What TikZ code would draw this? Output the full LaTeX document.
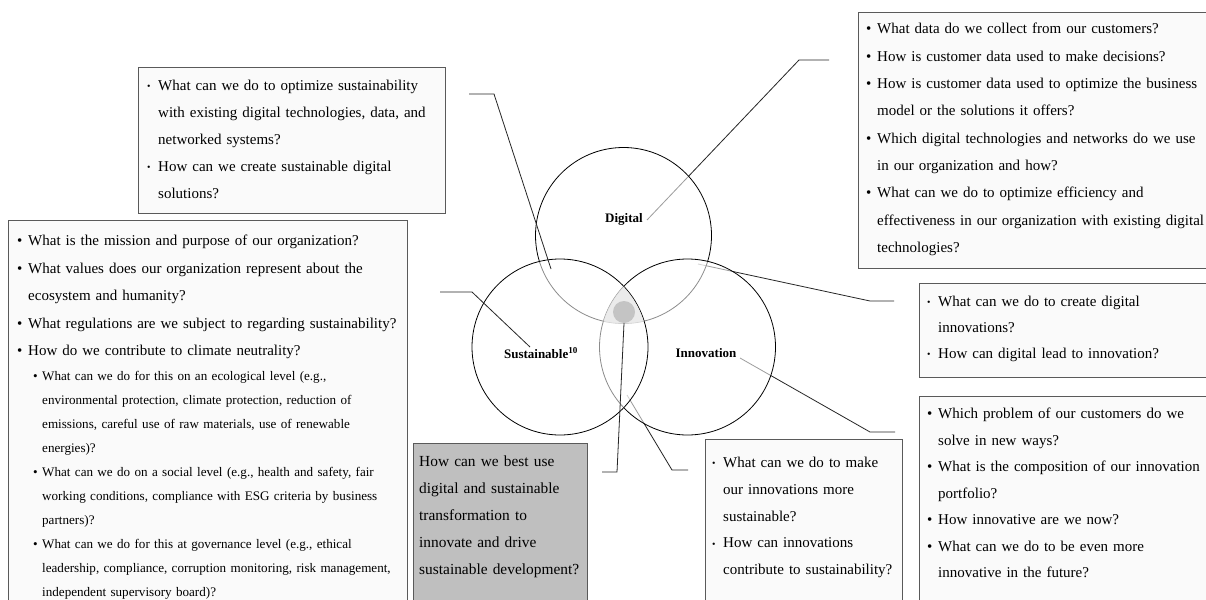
\documentclass[tikz,border=0pt]{standalone}
\usepackage{fontspec}
\usepackage{graphicx}
\setmainfont{Liberation Serif}
\definecolor{boxfill}{HTML}{FAFAFA}
\definecolor{boxline}{HTML}{5A5A5A}
\definecolor{grayfill}{HTML}{BFBFBF}
\definecolor{centerfill}{HTML}{E6E6E6}
\definecolor{dotfill}{HTML}{C4C4C4}
\newcommand\bigbul{\makebox[11pt][l]{\textbullet}}
\newcommand\smallbul{\makebox[11pt][l]{\raisebox{0.8pt}{\scalebox{0.65}{\textbullet}}}}
\newcommand\subbul{\makebox[9pt][l]{\textbullet}}
\newcommand\ind{\hspace*{11pt}}
\newcommand\subind{\hspace*{9pt}}
\tikzset{
  qbox/.style={draw=boxline, fill=boxfill, line width=0.9pt, anchor=north west, inner sep=0pt},
  gbox/.style={draw=boxline, fill=grayfill, line width=0.9pt, anchor=north west, inner sep=0pt},
  qtext/.style={anchor=base west, inner sep=0pt, text width=420pt, align=left},
  circ/.style={circle, minimum size=176pt, inner sep=0pt, draw=black, line width=0.8pt, fill=white, fill opacity=0.55},
  conn/.style={draw=black!85, line width=0.8pt},
  lab/.style={font={\fontsize{13}{15}\selectfont\bfseries}, inner sep=0pt},
}
\begin{document}
\begin{tikzpicture}[x=1pt,y=-1pt]
\useasboundingbox (0,0) rectangle (1206,599);
\clip (0,0) rectangle (1206,599);
\fill[white] (0,0) rectangle (1206,599);

% boxes
\node[qbox, minimum width=307pt, minimum height=146pt] (bTL) at (138,67) {};
\node[qbox, minimum width=399pt, minimum height=400pt] (bL) at (8,220) {};
\node[qbox, minimum width=347.5pt, minimum height=256pt] (bTR) at (858,12) {};
\node[qbox, minimum width=286.5pt, minimum height=94pt] (bR1) at (919,283) {};
\node[qbox, minimum width=286.5pt, minimum height=220pt] (bBR) at (919,396) {};
\node[qbox, minimum width=197pt, minimum height=200pt] (bMK) at (705,439) {};
\node[gbox, minimum width=174pt, minimum height=200pt] (bGR) at (413,443) {};

% texts
\node[qtext, font={\fontsize{15}{27}\selectfont}] (tTL) at (147,90.5)
 {\smallbul What can we do to optimize sustainability\\
  \ind with existing digital technologies, data, and\\
  \ind networked systems?\\
  \smallbul How can we create sustainable digital\\
  \ind solutions?};
\node[qtext, font={\fontsize{15}{27.5}\selectfont}] (tLa) at (17,245.5)
 {\bigbul What is the mission and purpose of our organization?\\
  \bigbul What values does our organization represent about the\\
  \ind ecosystem and humanity?\\
  \bigbul What regulations are we subject to regarding sustainability?\\
  \bigbul How do we contribute to climate neutrality?};
\node[qtext, font={\fontsize{13.1}{24}\selectfont}] (tLb) at (33,380.5)
 {\subbul What can we do for this on an ecological level (e.g.,\\
  \subind environmental protection, climate protection, reduction of\\
  \subind emissions, careful use of raw materials, use of renewable\\
  \subind energies)?\\
  \subbul What can we do on a social level (e.g., health and safety, fair\\
  \subind working conditions, compliance with ESG criteria by business\\
  \subind partners)?\\
  \subbul What can we do for this at governance level (e.g., ethical\\
  \subind leadership, compliance, corruption monitoring, risk management,\\
  \subind independent supervisory board)?};
\node[qtext, font={\fontsize{15}{27.3}\selectfont}] (tTR) at (866,34)
 {\bigbul What data do we collect from our customers?\\
  \bigbul How is customer data used to make decisions?\\
  \bigbul How is customer data used to optimize the business\\
  \ind model or the solutions it offers?\\
  \bigbul Which digital technologies and networks do we use\\
  \ind in our organization and how?\\
  \bigbul What can we do to optimize efficiency and\\
  \ind effectiveness in our organization with existing digital\\
  \ind technologies?};
\node[qtext, font={\fontsize{15}{26}\selectfont}] (tR1) at (927,306.5)
 {\smallbul What can we do to create digital\\
  \ind innovations?\\
  \smallbul How can digital lead to innovation?};
\node[qtext, font={\fontsize{15}{26.5}\selectfont}] (tBR) at (927,418.5)
 {\bigbul Which problem of our customers do we\\
  \ind solve in new ways?\\
  \bigbul What is the composition of our innovation\\
  \ind portfolio?\\
  \bigbul How innovative are we now?\\
  \bigbul What can we do to be even more\\
  \ind innovative in the future?};
\node[qtext, font={\fontsize{15}{26.8}\selectfont}] (tMK) at (712,467.5)
 {\smallbul What can we do to make\\
  \ind our innovations more\\
  \ind sustainable?\\
  \smallbul How can innovations\\
  \ind contribute to sustainability?};
\node[qtext, font={\fontsize{15.4}{27}\selectfont}] (tGR) at (419,466.5)
 {How can we best use\\
  digital and sustainable\\
  transformation to\\
  innovate and drive\\
  sustainable development?};

% connector end points
\coordinate (dA) at (647,220);
\coordinate (dB) at (799,60);
\coordinate (dC) at (829,60);
\coordinate (diA) at (698,264);
\coordinate (diB) at (870,301);
\coordinate (diC) at (894,301);
\coordinate (iA) at (740,358);
\coordinate (iB) at (870,432);
\coordinate (iC) at (895,432);
\coordinate (isA) at (627,395);
\coordinate (isB) at (672,470);
\coordinate (isC) at (688,470);
\coordinate (tlA) at (469,94);
\coordinate (tlB) at (494,94);
\coordinate (tlC) at (551,269);
\coordinate (sA) at (440,292);
\coordinate (sB) at (472,292);
\coordinate (sC) at (530,347);
\coordinate (cB) at (617,472);
\coordinate (cC) at (602,472);

% connectors lying under the circles
\draw[conn] (dA) -- (dB) -- (dC);
\draw[conn] (diA) -- (diB) -- (diC);
\draw[conn] (iA) -- (iB) -- (iC);
\draw[conn] (isA) -- (isB) -- (isC);

% circles
\node[circ] (D) at (623.5,235.5) {};
\node[circ] (I) at (687.5,347) {};
\node[circ] (S) at (560,347) {};

% centre region
\begin{scope}
  \clip (D.center) circle[radius=88pt];
  \clip (I.center) circle[radius=88pt];
  \fill[centerfill, fill opacity=0.8] (S.center) circle[radius=87.6pt];
\end{scope}
\node[circle, fill=dotfill, minimum size=22pt, inner sep=0pt] (dot) at (624,312) {};

% labels
\node[lab] (lD) at (624,219) {Digital};
\node[lab] (lS) at (541,353) {Sustainable\textsuperscript{10}};
\node[lab] (lI) at (706,353) {Innovation};

% connectors on top
\draw[conn] (tlA) -- (tlB) -- (tlC);
\draw[conn] (sA) -- (sB) -- (sC);
\draw[conn] (dot.south) -- (cB) -- (cC);
\end{tikzpicture}
\end{document}
